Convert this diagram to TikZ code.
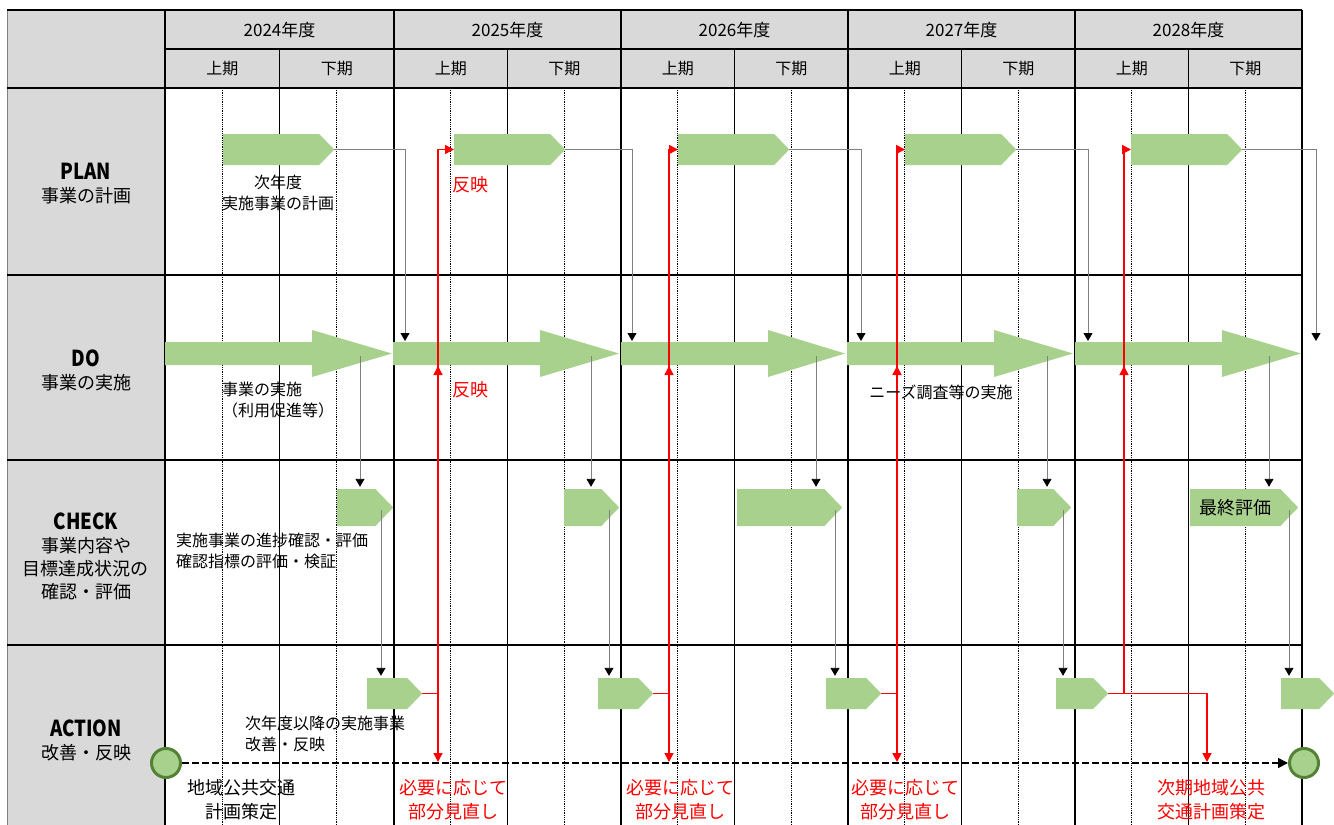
\documentclass[tikz,border=0pt]{standalone}
\usepackage{fontspec}
\setmainfont{Noto Sans CJK JP}
\usepackage{graphicx}
\usepackage{tikz}
\usetikzlibrary{arrows.meta}
\usetikzlibrary{shapes.symbols}

\definecolor{cellgray}{HTML}{D9D9D9}
\definecolor{stepgreen}{HTML}{A9D18E}
\definecolor{ringgreen}{HTML}{548235}
\definecolor{linkgray}{HTML}{808080}

\tikzset{
  stepbox/.style={signal, signal to=east, signal pointer angle=92, fill=stepgreen, inner sep=0pt, anchor=west},
  link/.style={linkgray, line width=0.9pt, shorten >=2pt, -{Triangle[length=8pt,width=9pt,color=black]}},
  redlink/.style={red, line width=1.6pt},
  redtip/.style={-{Triangle[length=9pt,width=9pt]}},
  rowtitle/.style={align=center, font=\fontsize{18}{23}\selectfont},
  note/.style={inner sep=1pt, font=\fontsize{16}{21}\selectfont},
  bignote/.style={inner sep=1pt, align=center, font=\fontsize{18}{24}\selectfont},
  rednote/.style={bignote, red},
  milestone/.style={circle, fill=stepgreen, draw=ringgreen, line width=3pt, minimum size=29pt, inner sep=0pt},
}
\newcommand{\stagename}[1]{{\fontsize{22}{23}\selectfont\bfseries\scalebox{0.85}[1]{#1}}}

\begin{document}
\begin{tikzpicture}[x=1pt, y=-1pt]
\useasboundingbox (0,0) rectangle (1334,825);

\fill[cellgray] (7,10) rectangle (165,825);
\fill[cellgray] (165,10) rectangle (1302,88);
\foreach \a/\b/\yr in {165/394/2024, 394/621/2025, 621/848/2026, 848/1075/2027, 1075/1302/2028} {
  \draw[densely dotted, line width=0.8pt] ({(3*\a+\b)/4},88) -- ({(3*\a+\b)/4},825);
  \draw[densely dotted, line width=0.8pt] ({(\a+3*\b)/4},88) -- ({(\a+3*\b)/4},825);
  \draw[line width=1.6pt] ({(\a+\b)/2},49) -- ({(\a+\b)/2},825);
  \draw[line width=2.6pt] (\a,10) -- (\a,825);
  \node[font=\fontsize{17}{20}\selectfont] (yr\yr) at ({(\a+\b)/2},30) {\yr 年度};
  \node[font=\fontsize{16}{20}\selectfont] (first\yr) at ({(3*\a+\b)/4},69) {上期};
  \node[font=\fontsize{16}{20}\selectfont] (second\yr) at ({(\a+3*\b)/4},69) {下期};
}
\draw[line width=2.6pt] (1302,10) -- (1302,825);
\draw[gray, line width=1pt] (7,10) -- (7,825);
\draw[line width=2pt] (7,10) -- (1302,10);
\draw[line width=1.6pt] (165,49) -- (1302,49);
\foreach \y in {88,275,460,645}
  \draw[line width=1.8pt] (7,\y) -- (1302,\y);

\node[rowtitle] (plan) at (86,184) {\stagename{PLAN}\\事業の計画};
\node[rowtitle] (do) at (86,370) {\stagename{DO}\\事業の実施};
\node[rowtitle] (check) at (86,556) {\stagename{CHECK}\\事業内容や\\目標達成状況の\\確認・評価};
\node[rowtitle] (action) at (86,740) {\stagename{ACTION}\\改善・反映};

\foreach \a/\b in {165/392, 393/619, 621/845, 847/1073, 1075/1301}
  \fill[stepgreen] (\a,342) -- ({\a+147},342) -- ({\a+147},330) -- (\b,353.5)
    -- ({\a+147},377) -- ({\a+147},365) -- (\a,365) -- cycle;

\foreach \yr/\x in {24/223, 25/454, 26/678, 27/905, 28/1131}
  \node[stepbox, minimum width=111, minimum height=31] (plan\yr) at (\x,149.5) {};
\foreach \yr/\x/\w in {24/337/56, 25/564/55, 26/737/105, 27/1017/54}
  \node[stepbox, minimum width=\w, minimum height=37] (chk\yr) at (\x,507.5) {};
\node[stepbox, minimum width=108, minimum height=37, font=\fontsize{18}{20}\selectfont] (chk28) at (1190,507.5) {最終評価};
\foreach \yr/\x/\w in {24/367/55, 25/598/55, 26/826/55, 27/1056/52, 28/1281/53}
  \node[stepbox, minimum width=\w, minimum height=31] (act\yr) at (\x,693.5) {};

\node[milestone] (start) at (166,763) {};
\node[milestone] (goal) at (1304,763) {};
\draw[line width=1.5pt, dash pattern=on 7pt off 3pt, -{Triangle[length=10pt,width=10pt]}] (start) -- (goal);

\foreach \yr/\xd in {24/405, 25/632, 26/861, 27/1088, 28/1316} {
  \coordinate (doin\yr) at (\xd,343);
  \draw[link] (plan\yr.east) -| (doin\yr);
}
\foreach \yr/\xo in {24/360, 25/591, 26/816, 27/1047, 28/1269} {
  \coordinate (doout\yr) at (\xo,356);
  \draw[link] (doout\yr) -- (doout\yr |- chk\yr.north);
}
\foreach \yr/\xo in {24/381, 25/609, 26/835, 27/1063, 28/1289} {
  \coordinate (chkout\yr) at (\xo,510);
  \draw[link] (chkout\yr) -- (chkout\yr |- act\yr.north);
}

\coordinate (nextturn) at (1207,762);
\foreach \yr/\xj/\nx in {24/438/25, 25/669/26, 26/897/27, 27/1124/28} {
  \coordinate (turn\yr) at (\xj,693.5);
  \coordinate (doup\yr) at (\xj,366);
  \draw[redlink] (act\yr.east) -- (turn\yr);
  \draw[redlink, redtip] (turn\yr) -- (doup\yr);
  \draw[redlink, redtip] (turn\yr) |- (plan\nx.west);
}
\foreach \yr in {24,25,26}
  \draw[redlink, redtip] (turn\yr) -- (turn\yr |- nextturn);
\draw[redlink, redtip] (turn27) -| (nextturn);

\node[note, align=center] (plannote) at (278,193) {次年度\\実施事業の計画};
\node[rednote, anchor=west] (reflectplan) at (451,185) {反映};
\node[rednote, anchor=west] (reflectdo) at (451,390) {反映};
\node[note, align=left, anchor=west] (donote) at (221,400) {事業の実施\\（利用促進等）};
\node[note] (survey) at (941,392) {ニーズ調査等の実施};
\node[note, align=left, anchor=west] (checknote) at (175,551) {実施事業の進捗確認・評価\\確認指標の評価・検証};
\node[note, align=left, anchor=west] (actnote) at (244,734) {次年度以降の実施事業\\改善・反映};
\node[bignote] (newplan) at (241,800) {地域公共交通\\計画策定};
\node[rednote] (review24) at (453,800) {必要に応じて\\部分見直し};
\node[rednote] (review25) at (680,800) {必要に応じて\\部分見直し};
\node[rednote] (review26) at (905,800) {必要に応じて\\部分見直し};
\node[rednote] (nextplan) at (1211,800) {次期地域公共\\交通計画策定};
\end{tikzpicture}
\end{document}
